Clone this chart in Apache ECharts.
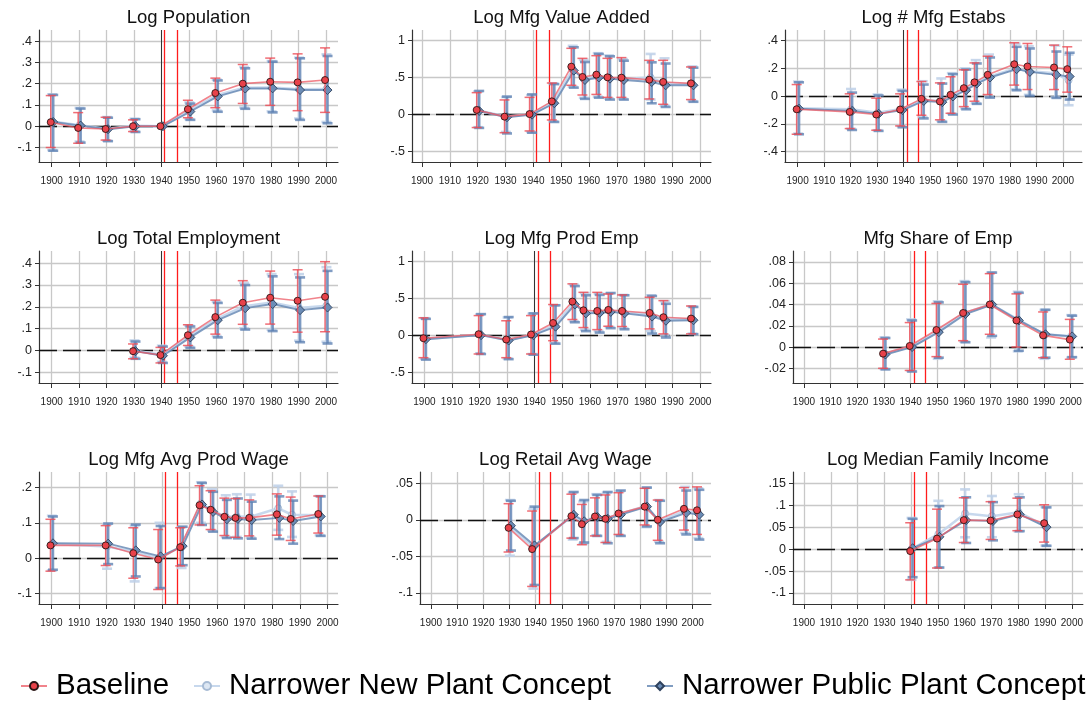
<!DOCTYPE html>
<html><head><meta charset="utf-8">
<script src="https://cdn.jsdelivr.net/npm/echarts@6/dist/echarts.min.js"></script>
<style>html,body{margin:0;padding:0;background:#fff}#c{width:1086px;height:705px}</style>
</head><body><div id="c"></div>
<script>
// ---------------- DATA ----------------
// each triple: [estimate, lower CI, upper CI]
const xTickYears = [1900,1910,1920,1930,1940,1950,1960,1970,1980,1990,2000];
const seriesNames = ['Baseline','Narrower New Plant Concept','Narrower Public Plant Concept'];

const popYears = [1900,1910,1920,1930,1940,1950,1960,1970,1980,1990,2000];
const popBase = [[0.019,-0.100,0.144],[-0.008,-0.080,0.064],[-0.013,-0.065,0.042],[0.000,-0.025,0.030],[0,0,0],[0.080,0.040,0.122],[0.156,0.087,0.226],[0.200,0.107,0.290],[0.209,0.098,0.320],[0.206,0.073,0.340],[0.217,0.065,0.368]];
const popNew  = [[0.022,-0.112,0.150],[0.005,-0.072,0.086],[-0.012,-0.068,0.043],[0.002,-0.024,0.035],[0,0,0],[0.073,0.034,0.112],[0.145,0.074,0.219],[0.181,0.088,0.278],[0.182,0.070,0.306],[0.174,0.036,0.322],[0.175,0.020,0.338]];
const popPub  = [[0.020,-0.115,0.147],[0.003,-0.077,0.083],[-0.014,-0.070,0.040],[0.000,-0.027,0.033],[0,0,0],[0.069,0.030,0.106],[0.140,0.068,0.215],[0.177,0.082,0.272],[0.178,0.065,0.303],[0.170,0.030,0.319],[0.170,0.014,0.330]];
const popTicks = [-0.1,0,0.1,0.2,0.3,0.4];

const vaYears = [1920,1930,1939,1947,1954,1958,1963,1967,1972,1982,1987,1997];
const vaBase = [[0.059,-0.180,0.294],[-0.032,-0.250,0.195],[0.003,-0.226,0.230],[0.176,-0.077,0.425],[0.647,0.394,0.896],[0.507,0.262,0.760],[0.538,0.270,0.796],[0.502,0.230,0.760],[0.498,0.230,0.770],[0.470,0.208,0.733],[0.439,0.136,0.733],[0.420,0.200,0.643]];
const vaNew  = [[0.050,-0.175,0.310],[-0.030,-0.240,0.235],[0.000,-0.240,0.260],[0.160,-0.095,0.420],[0.610,0.375,0.930],[0.480,0.225,0.740],[0.515,0.240,0.830],[0.495,0.215,0.800],[0.480,0.210,0.750],[0.500,0.200,0.820],[0.420,0.120,0.760],[0.405,0.180,0.650]];
const vaPub  = [[0.045,-0.185,0.317],[-0.040,-0.260,0.240],[-0.005,-0.250,0.270],[0.150,-0.104,0.410],[0.593,0.362,0.910],[0.466,0.210,0.710],[0.500,0.226,0.820],[0.484,0.200,0.787],[0.466,0.200,0.728],[0.439,0.150,0.706],[0.394,0.100,0.690],[0.394,0.170,0.633]];
const vaTicks = [-0.5,0,0.5,1];

const estYears = [1900,1920,1930,1939,1947,1954,1958,1963,1967,1972,1982,1987,1997,2002];
const estBase = [[-0.094,-0.274,0.084],[-0.113,-0.233,0.017],[-0.132,-0.245,-0.014],[-0.096,-0.214,0.017],[-0.019,-0.137,0.106],[-0.038,-0.170,0.096],[0.010,-0.123,0.140],[0.058,-0.075,0.190],[0.100,-0.036,0.240],[0.154,0.012,0.288],[0.230,0.080,0.385],[0.214,0.048,0.380],[0.207,0.048,0.368],[0.195,0.029,0.356]];
const estNew  = [[-0.088,-0.270,0.105],[-0.095,-0.235,0.052],[-0.120,-0.245,0.012],[-0.092,-0.215,0.047],[-0.030,-0.150,0.108],[-0.035,-0.178,0.128],[0.005,-0.125,0.166],[0.048,-0.088,0.200],[0.095,-0.050,0.260],[0.140,-0.005,0.300],[0.200,0.050,0.378],[0.180,0.010,0.360],[0.165,-0.005,0.365],[0.115,-0.065,0.300]];
const estPub  = [[-0.090,-0.274,0.100],[-0.106,-0.243,0.026],[-0.127,-0.250,0.005],[-0.100,-0.224,0.038],[-0.034,-0.160,0.084],[-0.043,-0.185,0.091],[-0.002,-0.132,0.159],[0.043,-0.094,0.192],[0.091,-0.055,0.236],[0.135,-0.010,0.279],[0.195,0.043,0.356],[0.175,0.002,0.344],[0.154,-0.012,0.322],[0.142,-0.024,0.313]];
const estTicks = [-0.4,-0.2,0,0.2,0.4];

const empYears = [1930,1940,1950,1960,1970,1980,1990,2000];
const empBase = [[-0.003,-0.038,0.030],[-0.021,-0.057,0.014],[0.070,0.023,0.118],[0.153,0.075,0.231],[0.219,0.120,0.320],[0.242,0.121,0.364],[0.228,0.084,0.370],[0.246,0.086,0.407]];
const empNew  = [[0.000,-0.033,0.046],[-0.020,-0.052,0.022],[0.065,0.018,0.114],[0.145,0.066,0.224],[0.203,0.102,0.310],[0.220,0.095,0.350],[0.195,0.045,0.350],[0.205,0.040,0.382]];
const empPub  = [[-0.003,-0.038,0.041],[-0.024,-0.057,0.018],[0.060,0.012,0.110],[0.139,0.060,0.218],[0.194,0.096,0.300],[0.213,0.089,0.340],[0.185,0.038,0.335],[0.197,0.032,0.365]];
const empTicks = [-0.1,0,0.1,0.2,0.3,0.4];

const peYears = [1900,1920,1930,1939,1947,1954,1958,1963,1967,1972,1982,1987,1997];
const peBase = [[-0.036,-0.300,0.240],[0.018,-0.250,0.270],[-0.054,-0.300,0.200],[0.014,-0.250,0.270],[0.170,-0.070,0.420],[0.460,0.217,0.700],[0.342,0.108,0.585],[0.333,0.080,0.585],[0.347,0.126,0.563],[0.333,0.122,0.550],[0.306,0.090,0.518],[0.248,0.022,0.473],[0.230,0.022,0.400]];
const peNew  = [[-0.045,-0.315,0.235],[0.010,-0.240,0.285],[-0.060,-0.310,0.245],[0.010,-0.250,0.295],[0.135,-0.100,0.405],[0.440,0.195,0.690],[0.320,0.080,0.575],[0.320,0.060,0.570],[0.335,0.115,0.570],[0.315,0.100,0.550],[0.285,0.060,0.545],[0.225,0.005,0.465],[0.215,0.025,0.395]];
const pePub  = [[-0.050,-0.326,0.226],[0.005,-0.250,0.290],[-0.068,-0.320,0.250],[0.005,-0.260,0.300],[0.120,-0.110,0.410],[0.420,0.180,0.670],[0.300,0.060,0.545],[0.306,0.040,0.550],[0.320,0.100,0.576],[0.300,0.085,0.545],[0.257,0.027,0.536],[0.200,-0.027,0.430],[0.207,0.018,0.387]];
const peTicks = [-0.5,0,0.5,1];

const shYears = [1930,1940,1950,1960,1970,1980,1990,2000];
const shBase = [[-0.0062,-0.020,0.0075],[0.001,-0.022,0.023],[0.016,-0.009,0.041],[0.032,0.006,0.059],[0.040,0.012,0.069],[0.025,0.000,0.050],[0.011,-0.010,0.033],[0.007,-0.0115,0.026]];
const shNew  = [[-0.0065,-0.0205,0.009],[0.0005,-0.0225,0.026],[0.015,-0.011,0.043],[0.032,0.005,0.062],[0.040,0.009,0.070],[0.026,-0.004,0.052],[0.012,-0.011,0.035],[0.010,-0.010,0.030]];
const shPub  = [[-0.007,-0.021,0.0085],[0.000,-0.023,0.025],[0.014,-0.010,0.042],[0.031,0.0045,0.061],[0.040,0.0105,0.070],[0.025,-0.0035,0.051],[0.012,-0.010,0.035],[0.010,-0.0095,0.0295]];
const shTicks = [-0.02,0,0.02,0.04,0.06,0.08];

const wgYears = [1900,1920,1930,1939,1947,1954,1958,1963,1967,1972,1982,1987,1997];
const wgBase = [[0.036,-0.037,0.110],[0.036,-0.021,0.092],[0.014,-0.057,0.086],[-0.004,-0.089,0.081],[0.031,-0.022,0.086],[0.150,0.094,0.205],[0.137,0.081,0.191],[0.117,0.064,0.170],[0.114,0.059,0.169],[0.114,0.063,0.165],[0.124,0.065,0.182],[0.111,0.050,0.173],[0.125,0.071,0.176]];
const wgNew  = [[0.040,-0.035,0.120],[0.033,-0.030,0.096],[0.018,-0.066,0.092],[0.000,-0.085,0.100],[0.033,-0.028,0.088],[0.155,0.100,0.215],[0.136,0.078,0.195],[0.117,0.060,0.178],[0.118,0.060,0.181],[0.117,0.058,0.180],[0.141,0.080,0.205],[0.123,0.060,0.189],[0.121,0.065,0.176]];
const wgPub  = [[0.042,-0.033,0.118],[0.041,-0.017,0.098],[0.022,-0.052,0.095],[0.005,-0.085,0.091],[0.034,-0.020,0.089],[0.152,0.094,0.213],[0.131,0.075,0.188],[0.110,0.057,0.165],[0.111,0.056,0.169],[0.108,0.055,0.160],[0.114,0.054,0.175],[0.105,0.041,0.163],[0.118,0.063,0.175]];
const wgTicks = [-0.1,0,0.1,0.2];

const rtYears = [1930,1939,1954,1958,1963,1967,1972,1982,1987,1997,2002];
const rtBase = [[-0.011,-0.044,0.022],[-0.040,-0.091,0.012],[0.005,-0.025,0.035],[-0.006,-0.034,0.021],[0.0045,-0.022,0.030],[0.0014,-0.031,0.034],[0.0086,-0.020,0.037],[0.018,-0.007,0.043],[0.000,-0.028,0.027],[0.015,-0.014,0.044],[0.013,-0.020,0.045]];
const rtNew  = [[-0.010,-0.049,0.027],[-0.037,-0.094,0.015],[0.006,-0.027,0.037],[-0.003,-0.033,0.025],[0.005,-0.021,0.035],[0.002,-0.030,0.037],[0.008,-0.021,0.039],[0.019,-0.010,0.044],[-0.002,-0.030,0.027],[0.012,-0.018,0.045],[0.009,-0.025,0.043]];
const rtPub  = [[-0.008,-0.042,0.026],[-0.035,-0.089,0.018],[0.007,-0.025,0.038],[-0.002,-0.031,0.027],[0.004,-0.022,0.034],[0.0014,-0.032,0.038],[0.007,-0.022,0.040],[0.018,-0.009,0.044],[-0.003,-0.032,0.026],[0.0095,-0.020,0.040],[0.007,-0.027,0.041]];
const rtTicks = [-0.1,-0.05,0,0.05];

const incYears = [1940,1950,1960,1970,1980,1990];
const incBase = [[-0.0045,-0.070,0.060],[0.024,-0.043,0.091],[0.066,0.015,0.117],[0.065,0.022,0.108],[0.079,0.042,0.116],[0.059,0.016,0.101]];
const incNew  = [[0.000,-0.070,0.071],[0.034,-0.042,0.110],[0.081,0.027,0.136],[0.075,0.027,0.121],[0.084,0.040,0.125],[0.052,0.008,0.096]];
const incPub  = [[0.002,-0.064,0.069],[0.028,-0.042,0.098],[0.066,0.014,0.118],[0.064,0.020,0.107],[0.079,0.041,0.118],[0.050,0.0075,0.095]];
const incTicks = [-0.1,-0.05,0,0.05,0.1,0.15];

const warLines = [1941.2, 1945.6];

// ---------------- LAYOUT / STYLE ----------------
const FONT = '"Liberation Sans", Arial, Helvetica, sans-serif';
const panels = [
  {title:'Log Population',        years:popYears, d:[popBase,popNew,popPub], ticks:popTicks, box:[39,30,338,162],  xr:[1895.37,2004.37], yr:[-0.168,0.452], mark1940:true},
  {title:'Log Mfg Value Added',   years:vaYears,  d:[vaBase,vaNew,vaPub],    ticks:vaTicks,  box:[412,30,711,162], xr:[1896.4,2003.85],  yr:[-0.648,1.145]},
  {title:'Log # Mfg Estabs',      years:estYears, d:[estBase,estNew,estPub], ticks:estTicks, box:[785,30,1082,162],xr:[1895.26,2007.2],  yr:[-0.474,0.477], mark1940:true},
  {title:'Log Total Employment',  years:empYears, d:[empBase,empNew,empPub], ticks:empTicks, box:[39,251,338,383], xr:[1895.37,2004.37], yr:[-0.149,0.456], mark1940:true},
  {title:'Log Mfg Prod Emp',      years:peYears,  d:[peBase,peNew,pePub],    ticks:peTicks,  box:[412,251,711,383],xr:[1895.5,2003.9],   yr:[-0.643,1.145], mark1940:true},
  {title:'Mfg Share of Emp',      years:shYears,  d:[shBase,shNew,shPub],    ticks:shTicks,  box:[793,251,1083,383],xr:[1895.9,2004.6],  yr:[-0.0338,0.0903]},
  {title:'Log Mfg Avg Prod Wage', years:wgYears,  d:[wgBase,wgNew,wgPub],    ticks:wgTicks,  box:[39,472,338,604], xr:[1895.5,2003.8],   yr:[-0.13,0.244]},
  {title:'Log Retail Avg Wage',   years:rtYears,  d:[rtBase,rtNew,rtPub],    ticks:rtTicks,  box:[420,472,711,604],xr:[1895.8,2007.0],   yr:[-0.115,0.0653]},
  {title:'Log Median Family Income',years:incYears,d:[incBase,incNew,incPub],ticks:incTicks, box:[793,472,1083,604],xr:[1895.9,2004.1],  yr:[-0.125,0.1756]}
];

// style per series: index 0 baseline, 1 new plant, 2 public plant
const sty = [
  {off:-0.35, line:'rgba(236,90,100,0.75)', lw:1.6, bar:'rgba(236,72,82,0.80)', bw:1.5, cap:5, sym:'circle', ss:7, fill:'#e8424a', border:'#2a1515', z:20},
  {off: 0.15, line:'rgba(196,214,236,0.95)', lw:2.6, bar:'rgba(190,208,232,0.85)', bw:2.6, cap:5, sym:'circle', ss:7, fill:'#dde7f3', border:'#a7bbd4', z:10},
  {off: 0.55, line:'rgba(98,132,178,0.80)', lw:1.9, bar:'rgba(92,128,178,0.78)', bw:2.6, cap:5, sym:'diamond', ss:9, fill:'#6b8cb6', border:'#2e425e', z:15}
];
const drawOrder = [1,2,0];

function fmtY(v){
  let s = String(+(+v).toFixed(4));
  if (s.startsWith('0.')) s = s.slice(1);
  else if (s.startsWith('-0.')) s = '-' + s.slice(2);
  return s;
}

const grids=[], xAxes=[], yAxes=[], series=[], graphics=[];
panels.forEach((p,i)=>{
  const [l,t,r,b] = p.box;
  grids.push({left:l, top:t, width:r-l, height:b-t});
  xAxes.push({
    type:'value', gridIndex:i, min:p.xr[0], max:p.xr[1],
    axisLine:{show:true, onZero:false, lineStyle:{color:'#333', width:1.2}},
    axisTick:{show:true, length:5, customValues:xTickYears, lineStyle:{color:'#333', width:1}},
    axisLabel:{customValues:xTickYears, fontSize:10, color:'#222', margin:14, fontFamily:FONT, formatter:v=>String(Math.round(v))},
    splitLine:{show:true, lineStyle:{color:'#c8c8c8', width:1.3}}
  });
  yAxes.push({
    type:'value', gridIndex:i, min:p.yr[0], max:p.yr[1],
    axisLine:{show:true, onZero:false, lineStyle:{color:'#333', width:1.2}},
    axisTick:{show:true, length:4, customValues:p.ticks, lineStyle:{color:'#333', width:1}},
    axisLabel:{customValues:p.ticks, fontSize:12.5, color:'#222', margin:7, fontFamily:FONT, formatter:fmtY},
    splitLine:{show:true, lineStyle:{color:'#c8c8c8', width:1.3}}
  });
  // reference lines
  const ml = [{yAxis:0, lineStyle:{color:'#111', type:[18,6], width:1.3}}];
  if (p.mark1940) ml.push({xAxis:1940, lineStyle:{color:'#333', width:1, type:'solid'}});
  warLines.forEach(w=>ml.push({xAxis:w, lineStyle:{color:'#ff1c1c', width:1.3, type:'solid'}}));
  series.push({type:'line', xAxisIndex:i, yAxisIndex:i, data:[], silent:true, z:1,
    markLine:{silent:true, symbol:['none','none'], label:{show:false}, emphasis:{disabled:true}, data:ml}});

  drawOrder.forEach(k=>{
    const st = sty[k], arr = p.d[k];
    const ci = p.years.map((y,j)=>[y+st.off, arr[j][1], arr[j][2]]);
    series.push({
      type:'custom', xAxisIndex:i, yAxisIndex:i, silent:true, z:st.z,
      encode:{x:0, y:[1,2]}, data:ci,
      renderItem:(params, api)=>{
        const x=api.value(0), lo=api.value(1), hi=api.value(2);
        if (lo===hi) return null;
        const a=api.coord([x,hi]), b2=api.coord([x,lo]);
        const s={stroke:st.bar, lineWidth:st.bw};
        return {type:'group', children:[
          {type:'line', shape:{x1:a[0],y1:a[1],x2:b2[0],y2:b2[1]}, style:s},
          {type:'line', shape:{x1:a[0]-st.cap,y1:a[1],x2:a[0]+st.cap,y2:a[1]}, style:s},
          {type:'line', shape:{x1:b2[0]-st.cap,y1:b2[1],x2:b2[0]+st.cap,y2:b2[1]}, style:s}
        ]};
      }
    });
    series.push({
      type:'line', name:seriesNames[k], xAxisIndex:i, yAxisIndex:i, z:st.z+1,
      data:p.years.map((y,j)=>[y+st.off, arr[j][0]]),
      symbol:st.sym, symbolSize:st.ss, showAllSymbol:true,
      lineStyle:{color:st.line, width:st.lw},
      itemStyle:{color:st.fill, borderColor:st.border, borderWidth:0.9},
      emphasis:{disabled:true}
    });
  });
  graphics.push({type:'text', x:(l+r)/2, y:t-12, silent:true,
    style:{text:p.title, fontSize:18.5, fontFamily:FONT, fill:'#111', align:'center', verticalAlign:'middle'}});
});

const legendBase = {top:671, itemWidth:26, itemHeight:10, padding:0, selectedMode:false,
  textStyle:{fontSize:29.5, color:'#000', fontFamily:FONT, padding:[0,0,0,4]}};
const option = {
  animation:false, backgroundColor:'#fff',
  grid:grids, xAxis:xAxes, yAxis:yAxes, series:series, graphic:graphics,
  legend:[
    Object.assign({}, legendBase, {left:20, data:[seriesNames[0]]}),
    Object.assign({}, legendBase, {left:193, data:[seriesNames[1]]}),
    Object.assign({}, legendBase, {left:646, data:[seriesNames[2]]})
  ]
};
const chart = echarts.init(document.getElementById('c'), null, {renderer:'canvas'});
chart.setOption(option);
</script></body></html>
